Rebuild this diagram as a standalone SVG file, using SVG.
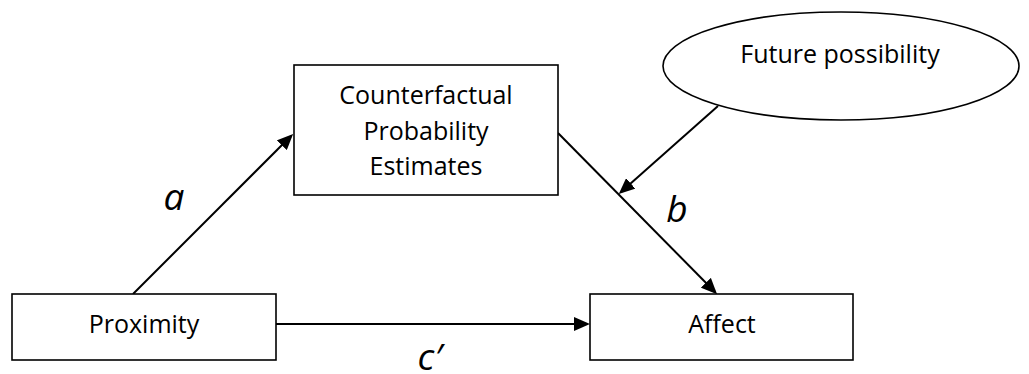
<svg xmlns="http://www.w3.org/2000/svg" width="1029" height="374" viewBox="0 0 1029 374">
<style>
.box{fill:#fff;stroke:#000;stroke-width:1.6}
.lbl{font-family:"Open Sans","Liberation Sans",sans-serif;font-size:25px;fill:#000;text-anchor:middle}
.ital{font-family:"Open Sans","Liberation Sans",sans-serif;font-style:italic;font-size:37px;fill:#000;text-anchor:middle}
.conn{stroke:#000;stroke-width:2;fill:none;marker-end:url(#ah)}
</style>
<defs>
<marker id="ah" markerUnits="userSpaceOnUse" markerWidth="16" markerHeight="14" refX="13" refY="7" orient="auto">
<path d="M0,0 L16,7 L0,14 z" fill="#000"/>
</marker>
</defs>
<rect width="1029" height="374" fill="#fff"/>
<g id="connectors">
<line class="conn" x1="133" y1="294" x2="291" y2="136"/>
<line class="conn" x1="558" y1="133" x2="715" y2="292"/>
<line class="conn" x1="718" y1="106" x2="621" y2="192"/>
<line class="conn" x1="276" y1="324" x2="587" y2="324"/>
</g>
<g id="node-counterfactual">
<rect class="box" x="294" y="65" width="264" height="130"/>
<text class="lbl" x="426" y="104">Counterfactual</text>
<text class="lbl" x="426" y="140">Probability</text>
<text class="lbl" x="426" y="175">Estimates</text>
</g>
<g id="node-future">
<ellipse class="box" cx="841" cy="66" rx="178" ry="54"/>
<text class="lbl" x="840" y="63">Future possibility</text>
</g>
<g id="node-proximity">
<rect class="box" x="12" y="294" width="264" height="66"/>
<text class="lbl" x="144" y="333">Proximity</text>
</g>
<g id="node-affect">
<rect class="box" x="590" y="294" width="263" height="66"/>
<text class="lbl" x="722" y="333">Affect</text>
</g>
<g id="labels">
<text class="ital" x="174" y="210">a</text>
<text class="ital" x="677" y="222">b</text>
<text class="ital" x="430" y="370">c′</text>
</g>
</svg>
